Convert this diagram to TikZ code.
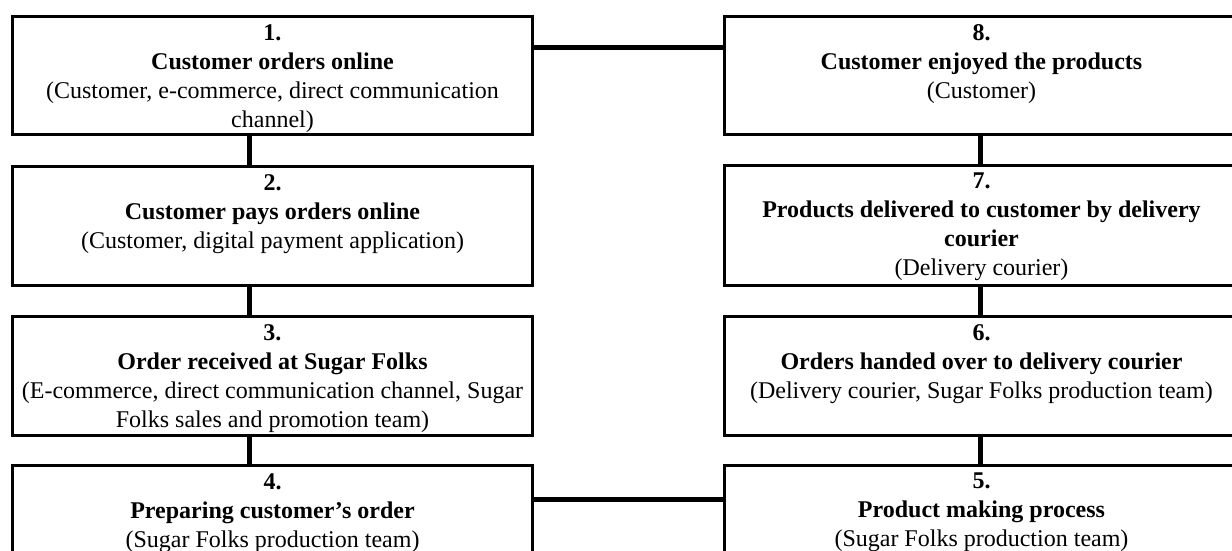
\documentclass[tikz,border=0pt]{standalone}
\usepackage{fontspec}
\setmainfont{Liberation Serif}
\begin{document}
\begin{tikzpicture}[x=1pt,y=-1pt,
  box/.style={draw=black, line width=3pt, rectangle, minimum width=#1, inner sep=0pt, anchor=north west},
  txt/.style={anchor=north, inner sep=0pt, align=center, font=\fontsize{24}{29}\selectfont},
  conn/.style={draw=black, line width=5pt}]
\useasboundingbox (0,0) rectangle (1232,551);
\clip (0,0) rectangle (1232,551);
% left column
\node[box=520, minimum height=118] (b1) at (11,15) {};
\node[box=520, minimum height=119] (b2) at (11,165) {};
\node[box=520, minimum height=119] (b3) at (11,315) {};
\node[box=520, minimum height=130] (b4) at (11,464) {};
% right column
\node[box=514, minimum height=118] (b8) at (723,15) {};
\node[box=514, minimum height=120] (b7) at (723,164) {};
\node[box=514, minimum height=119] (b6) at (723,315) {};
\node[box=514, minimum height=130] (b5) at (723,464) {};
% texts
\node[txt] (t1) at ([yshift=-9pt]b1.north) {\textbf{1.}\\\textbf{Customer orders online}\\(Customer, e-commerce, direct communication\\channel)};
\node[txt] (t2) at ([yshift=-9pt]b2.north) {\textbf{2.}\\\textbf{Customer pays orders online}\\(Customer, digital payment application)};
\node[txt] (t3) at ([yshift=-9pt]b3.north) {\textbf{3.}\\\textbf{Order received at Sugar Folks}\\(E-commerce, direct communication channel, Sugar\\Folks sales and promotion team)};
\node[txt] (t4) at ([yshift=-9pt]b4.north) {\textbf{4.}\\\textbf{Preparing customer’s order}\\(Sugar Folks production team)};
\node[txt] (t8) at ([yshift=-9pt]b8.north) {\textbf{8.}\\\textbf{Customer enjoyed the products}\\(Customer)};
\node[txt] (t7) at ([yshift=-9pt]b7.north) {\textbf{7.}\\\textbf{Products delivered to customer by delivery}\\\textbf{courier}\\(Delivery courier)};
\node[txt] (t6) at ([yshift=-9pt]b6.north) {\textbf{6.}\\\textbf{Orders handed over to delivery courier}\\(Delivery courier, Sugar Folks production team)};
\node[txt] (t5) at ([yshift=-9pt]b5.north) {\textbf{5.}\\\textbf{Product making process}\\(Sugar Folks production team)};
% connectors
\coordinate (lx) at (249,0);
\coordinate (rx) at (980,0);
\draw[conn] (b1.south -| lx) -- (b2.north -| lx);
\draw[conn] (b2.south -| lx) -- (b3.north -| lx);
\draw[conn] (b3.south -| lx) -- (b4.north -| lx);
\draw[conn] (b8.south -| rx) -- (b7.north -| rx);
\draw[conn] (b7.south -| rx) -- (b6.north -| rx);
\draw[conn] (b6.south -| rx) -- (b5.north -| rx);
\draw[conn] ([yshift=-33pt]b1.north east) -- ([yshift=-33pt]b8.north west);
\draw[conn] ([yshift=-35pt]b4.north east) -- ([yshift=-35pt]b5.north west);
\end{tikzpicture}
\end{document}
